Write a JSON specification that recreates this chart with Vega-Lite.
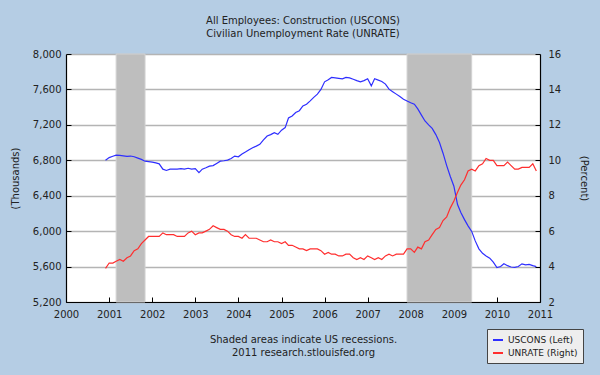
{
  "$schema": "https://vega.github.io/schema/vega-lite/v6.json",
  "width": 474,
  "height": 248,
  "autosize": {"type": "none"},
  "padding": {"left": 66, "top": 54, "right": 60, "bottom": 73},
  "background": "#B5CDE4",
  "config": {
    "font": "DejaVu Sans",
    "view": {"fill": "white", "stroke": null},
    "axis": {
      "labelFont": "DejaVu Sans", "labelFontSize": 10, "labelColor": "#222222",
      "titleFont": "DejaVu Sans", "titleFontSize": 10, "titleFontWeight": "normal", "titleColor": "#222222",
      "domainColor": "#000000", "domainWidth": 1.2, "tickColor": "#000000", "tickWidth": 1
    }
  },
  "title": {
    "text": ["All Employees: Construction (USCONS)", "Civilian Unemployment Rate (UNRATE)"],
    "font": "DejaVu Sans", "fontSize": 10, "fontWeight": "normal", "color": "#222222",
    "anchor": "middle", "lineHeight": 13, "offset": 10
  },
  "datasets": {
    "rec": [
      {"start": "2001/03/01", "end": "2001/11/01"},
      {"start": "2007/12/01", "end": "2009/06/01"}
    ],
    "series": [
      {"date": "2000/12/01", "uscons": 6800, "unrate": 3.9},
      {"date": "2001/01/01", "uscons": 6830, "unrate": 4.2},
      {"date": "2001/02/01", "uscons": 6845, "unrate": 4.2},
      {"date": "2001/03/01", "uscons": 6858, "unrate": 4.3},
      {"date": "2001/04/01", "uscons": 6855, "unrate": 4.4},
      {"date": "2001/05/01", "uscons": 6850, "unrate": 4.3},
      {"date": "2001/06/01", "uscons": 6845, "unrate": 4.5},
      {"date": "2001/07/01", "uscons": 6848, "unrate": 4.6},
      {"date": "2001/08/01", "uscons": 6840, "unrate": 4.9},
      {"date": "2001/09/01", "uscons": 6825, "unrate": 5.0},
      {"date": "2001/10/01", "uscons": 6810, "unrate": 5.3},
      {"date": "2001/11/01", "uscons": 6790, "unrate": 5.5},
      {"date": "2001/12/01", "uscons": 6785, "unrate": 5.7},
      {"date": "2002/01/01", "uscons": 6780, "unrate": 5.7},
      {"date": "2002/02/01", "uscons": 6770, "unrate": 5.7},
      {"date": "2002/03/01", "uscons": 6760, "unrate": 5.7},
      {"date": "2002/04/01", "uscons": 6700, "unrate": 5.9},
      {"date": "2002/05/01", "uscons": 6685, "unrate": 5.8},
      {"date": "2002/06/01", "uscons": 6700, "unrate": 5.8},
      {"date": "2002/07/01", "uscons": 6700, "unrate": 5.8},
      {"date": "2002/08/01", "uscons": 6700, "unrate": 5.7},
      {"date": "2002/09/01", "uscons": 6705, "unrate": 5.7},
      {"date": "2002/10/01", "uscons": 6700, "unrate": 5.7},
      {"date": "2002/11/01", "uscons": 6710, "unrate": 5.9},
      {"date": "2002/12/01", "uscons": 6700, "unrate": 6.0},
      {"date": "2003/01/01", "uscons": 6705, "unrate": 5.8},
      {"date": "2003/02/01", "uscons": 6660, "unrate": 5.9},
      {"date": "2003/03/01", "uscons": 6700, "unrate": 5.9},
      {"date": "2003/04/01", "uscons": 6715, "unrate": 6.0},
      {"date": "2003/05/01", "uscons": 6734, "unrate": 6.1},
      {"date": "2003/06/01", "uscons": 6740, "unrate": 6.3},
      {"date": "2003/07/01", "uscons": 6765, "unrate": 6.2},
      {"date": "2003/08/01", "uscons": 6790, "unrate": 6.1},
      {"date": "2003/09/01", "uscons": 6795, "unrate": 6.1},
      {"date": "2003/10/01", "uscons": 6802, "unrate": 6.0},
      {"date": "2003/11/01", "uscons": 6820, "unrate": 5.8},
      {"date": "2003/12/01", "uscons": 6847, "unrate": 5.7},
      {"date": "2004/01/01", "uscons": 6840, "unrate": 5.7},
      {"date": "2004/02/01", "uscons": 6870, "unrate": 5.6},
      {"date": "2004/03/01", "uscons": 6893, "unrate": 5.8},
      {"date": "2004/04/01", "uscons": 6920, "unrate": 5.6},
      {"date": "2004/05/01", "uscons": 6942, "unrate": 5.6},
      {"date": "2004/06/01", "uscons": 6960, "unrate": 5.6},
      {"date": "2004/07/01", "uscons": 6980, "unrate": 5.5},
      {"date": "2004/08/01", "uscons": 7030, "unrate": 5.4},
      {"date": "2004/09/01", "uscons": 7074, "unrate": 5.4},
      {"date": "2004/10/01", "uscons": 7090, "unrate": 5.5},
      {"date": "2004/11/01", "uscons": 7112, "unrate": 5.4},
      {"date": "2004/12/01", "uscons": 7093, "unrate": 5.4},
      {"date": "2005/01/01", "uscons": 7140, "unrate": 5.3},
      {"date": "2005/02/01", "uscons": 7169, "unrate": 5.4},
      {"date": "2005/03/01", "uscons": 7278, "unrate": 5.2},
      {"date": "2005/04/01", "uscons": 7300, "unrate": 5.2},
      {"date": "2005/05/01", "uscons": 7339, "unrate": 5.1},
      {"date": "2005/06/01", "uscons": 7360, "unrate": 5.0},
      {"date": "2005/07/01", "uscons": 7414, "unrate": 5.0},
      {"date": "2005/08/01", "uscons": 7433, "unrate": 4.9},
      {"date": "2005/09/01", "uscons": 7471, "unrate": 5.0},
      {"date": "2005/10/01", "uscons": 7510, "unrate": 5.0},
      {"date": "2005/11/01", "uscons": 7547, "unrate": 5.0},
      {"date": "2005/12/01", "uscons": 7600, "unrate": 4.9},
      {"date": "2006/01/01", "uscons": 7686, "unrate": 4.7},
      {"date": "2006/02/01", "uscons": 7710, "unrate": 4.8},
      {"date": "2006/03/01", "uscons": 7736, "unrate": 4.7},
      {"date": "2006/04/01", "uscons": 7730, "unrate": 4.7},
      {"date": "2006/05/01", "uscons": 7725, "unrate": 4.6},
      {"date": "2006/06/01", "uscons": 7720, "unrate": 4.6},
      {"date": "2006/07/01", "uscons": 7736, "unrate": 4.7},
      {"date": "2006/08/01", "uscons": 7730, "unrate": 4.7},
      {"date": "2006/09/01", "uscons": 7715, "unrate": 4.5},
      {"date": "2006/10/01", "uscons": 7700, "unrate": 4.4},
      {"date": "2006/11/01", "uscons": 7686, "unrate": 4.5},
      {"date": "2006/12/01", "uscons": 7700, "unrate": 4.4},
      {"date": "2007/01/01", "uscons": 7720, "unrate": 4.6},
      {"date": "2007/02/01", "uscons": 7640, "unrate": 4.5},
      {"date": "2007/03/01", "uscons": 7720, "unrate": 4.4},
      {"date": "2007/04/01", "uscons": 7705, "unrate": 4.5},
      {"date": "2007/05/01", "uscons": 7690, "unrate": 4.4},
      {"date": "2007/06/01", "uscons": 7660, "unrate": 4.6},
      {"date": "2007/07/01", "uscons": 7603, "unrate": 4.7},
      {"date": "2007/08/01", "uscons": 7575, "unrate": 4.6},
      {"date": "2007/09/01", "uscons": 7547, "unrate": 4.7},
      {"date": "2007/10/01", "uscons": 7520, "unrate": 4.7},
      {"date": "2007/11/01", "uscons": 7490, "unrate": 4.7},
      {"date": "2007/12/01", "uscons": 7470, "unrate": 5.0},
      {"date": "2008/01/01", "uscons": 7450, "unrate": 5.0},
      {"date": "2008/02/01", "uscons": 7433, "unrate": 4.8},
      {"date": "2008/03/01", "uscons": 7380, "unrate": 5.1},
      {"date": "2008/04/01", "uscons": 7310, "unrate": 5.0},
      {"date": "2008/05/01", "uscons": 7244, "unrate": 5.4},
      {"date": "2008/06/01", "uscons": 7200, "unrate": 5.5},
      {"date": "2008/07/01", "uscons": 7160, "unrate": 5.8},
      {"date": "2008/08/01", "uscons": 7090, "unrate": 6.1},
      {"date": "2008/09/01", "uscons": 7000, "unrate": 6.2},
      {"date": "2008/10/01", "uscons": 6880, "unrate": 6.6},
      {"date": "2008/11/01", "uscons": 6740, "unrate": 6.8},
      {"date": "2008/12/01", "uscons": 6620, "unrate": 7.3},
      {"date": "2009/01/01", "uscons": 6507, "unrate": 7.7},
      {"date": "2009/02/01", "uscons": 6300, "unrate": 8.2},
      {"date": "2009/03/01", "uscons": 6210, "unrate": 8.6},
      {"date": "2009/04/01", "uscons": 6130, "unrate": 8.9},
      {"date": "2009/05/01", "uscons": 6060, "unrate": 9.4},
      {"date": "2009/06/01", "uscons": 5997, "unrate": 9.5},
      {"date": "2009/07/01", "uscons": 5890, "unrate": 9.4},
      {"date": "2009/08/01", "uscons": 5800, "unrate": 9.7},
      {"date": "2009/09/01", "uscons": 5750, "unrate": 9.8},
      {"date": "2009/10/01", "uscons": 5720, "unrate": 10.1},
      {"date": "2009/11/01", "uscons": 5695, "unrate": 10.0},
      {"date": "2009/12/01", "uscons": 5650, "unrate": 10.0},
      {"date": "2010/01/01", "uscons": 5589, "unrate": 9.7},
      {"date": "2010/02/01", "uscons": 5600, "unrate": 9.7},
      {"date": "2010/03/01", "uscons": 5631, "unrate": 9.7},
      {"date": "2010/04/01", "uscons": 5610, "unrate": 9.9},
      {"date": "2010/05/01", "uscons": 5595, "unrate": 9.7},
      {"date": "2010/06/01", "uscons": 5590, "unrate": 9.5},
      {"date": "2010/07/01", "uscons": 5600, "unrate": 9.5},
      {"date": "2010/08/01", "uscons": 5631, "unrate": 9.6},
      {"date": "2010/09/01", "uscons": 5620, "unrate": 9.6},
      {"date": "2010/10/01", "uscons": 5625, "unrate": 9.6},
      {"date": "2010/11/01", "uscons": 5610, "unrate": 9.8},
      {"date": "2010/12/01", "uscons": 5600, "unrate": 9.4}
    ]
  },
  "layer": [
    {
      "data": {"name": "rec"},
      "mark": {"type": "rect", "color": "#BEBEBE", "stroke": "#D2D2D2", "strokeWidth": 1},
      "encoding": {
        "x": {
          "field": "start", "type": "temporal",
          "scale": {"domain": [{"year": 2000, "month": 1, "date": 1}, {"year": 2011, "month": 1, "date": 1}]},
          "axis": {
            "title": ["Shaded areas indicate US recessions.", "2011 research.stlouisfed.org"],
            "titleLineHeight": 13, "titleBaseline": "top", "titleY": 32,
            "format": "%Y", "tickCount": {"interval": "year", "step": 1},
            "labelOverlap": false, "labelFlush": false,
            "tickSize": -5, "labelPadding": 12, "grid": false
          }
        },
        "x2": {"field": "end"}
      }
    },
    {
      "data": {"name": "series"},
      "mark": {"type": "line", "strokeWidth": 1.2, "interpolate": "linear"},
      "encoding": {
        "x": {"field": "date", "type": "temporal"},
        "y": {
          "field": "uscons", "type": "quantitative",
          "scale": {"domain": [5200, 8000], "nice": false, "zero": false},
          "axis": {
            "orient": "left", "title": "(Thousands)", "titleAngle": -90, "titleX": -51, "titleY": 124,
            "titleBaseline": "middle", "titleAlign": "center",
            "values": [5200, 5600, 6000, 6400, 6800, 7200, 7600, 8000], "format": ",d",
            "tickSize": -5, "labelPadding": 10, "grid": true, "gridColor": "#B4B4B4", "gridWidth": 1.5
          }
        },
        "color": {
          "datum": "USCONS (Left)",
          "scale": {"domain": ["USCONS (Left)", "UNRATE (Right)"], "range": ["#2E2EFF", "#FF2E2E"]},
          "legend": {
            "title": null, "orient": "none", "legendX": 421, "legendY": 275,
            "symbolType": "stroke", "symbolStrokeWidth": 2, "symbolSize": 100,
            "labelFont": "DejaVu Sans", "labelFontSize": 9, "labelColor": "#222222",
            "fillColor": "#EEEEEE", "strokeColor": "#444444", "padding": 5, "rowPadding": 2
          }
        }
      }
    },
    {
      "data": {"name": "series"},
      "mark": {"type": "line", "strokeWidth": 1.2, "interpolate": "linear"},
      "encoding": {
        "x": {"field": "date", "type": "temporal"},
        "y": {
          "field": "unrate", "type": "quantitative",
          "scale": {"domain": [2, 16], "nice": false, "zero": false},
          "axis": {
            "orient": "right", "title": "(Percent)", "titleAngle": 90, "titleX": 43, "titleY": 124,
            "titleBaseline": "middle", "titleAlign": "center",
            "values": [2, 4, 6, 8, 10, 12, 14, 16],
            "tickSize": -5, "labelPadding": 13, "grid": false
          }
        },
        "color": {"datum": "UNRATE (Right)"}
      }
    }
  ],
  "resolve": {"scale": {"y": "independent"}}
}
